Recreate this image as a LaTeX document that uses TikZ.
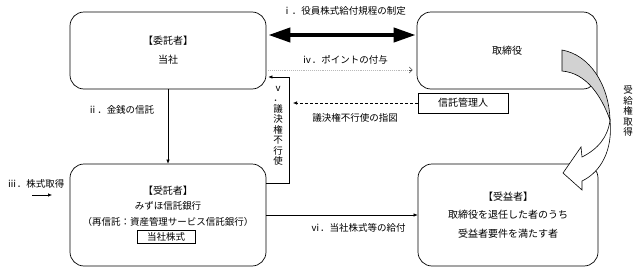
\documentclass[tikz,border=0pt]{standalone}
\usepackage{fontspec}
\setmainfont{Noto Sans CJK JP}
\usetikzlibrary{arrows.meta}

\tikzset{
  box/.style={draw, rounded corners=14pt, line width=0.7pt, align=center},
  lbl/.style={font=\fontsize{9.5pt}{11pt}\selectfont, inner sep=0pt},
  vlbl/.style={align=center, inner sep=0pt, font=\fontsize{9.5pt}{10.5pt}\selectfont},
  arr/.style={-{Latex[length=4pt,width=3.5pt]}, line width=0.6pt},
}

\begin{document}
\begin{tikzpicture}[x=1pt, y=-1pt]
  \useasboundingbox (0,0) rectangle (641,276);

  % -- Boxes --
  \node[box, minimum width=196pt, minimum height=77pt, font=\fontsize{10pt}{19pt}\selectfont] (itaku) at (168,50.5) {【委託者】\\当社};
  \node[box, minimum width=180pt, minimum height=77pt, font=\fontsize{10pt}{11pt}\selectfont] (torishimari) at (507,50.5) {取締役};
  \node[box, minimum width=196pt, minimum height=102pt] (jutaku) at (168,215) {};
  \node[align=center, inner sep=0pt, font=\fontsize{9.5pt}{15.5pt}\selectfont] (jutakutxt) at (168,206) {{\fontsize{10pt}{15.5pt}\selectfont【受託者】}\\みずほ信託銀行\\（再信託：資産管理サービス信託銀行）};
  \node[draw, line width=0.6pt, minimum width=58pt, minimum height=13pt, inner sep=1pt, font=\fontsize{9.5pt}{11pt}\selectfont] (kabu) at (166,237) {当社株式};
  \node[box, minimum width=180pt, minimum height=102pt, font=\fontsize{10pt}{18.5pt}\selectfont] (jueki) at (508,215) {【受益者】\\取締役を退任した者のうち\\受益者要件を満たす者};
  \node[draw, line width=0.6pt, minimum width=90pt, minimum height=20pt, font=\fontsize{10pt}{11pt}\selectfont] (kanri) at (463,103) {信託管理人};

  % -- Labels --
  \node[lbl] (lbli) at (344,11) {ⅰ．役員株式給付規程の制定};
  \node[lbl] (lbliv) at (345,60) {ⅳ．ポイントの付与};
  \node[lbl] (lblshizu) at (355,118) {議決権不行使の指図};
  \node[lbl] (lblii) at (121,110) {ⅱ．金銭の信託};
  \node[lbl] (lbliii) at (36,184) {ⅲ．株式取得};
  \node[lbl] (lblvi) at (358,228) {ⅵ．当社株式等の給付};
  \node[vlbl] (lblv) at (278,126) {ⅴ\\．\\議\\決\\権\\不\\行\\使};
  \node[vlbl] (lbljukyu) at (628,111) {受\\給\\権\\取\\得};

  % -- Connectors --
  \draw[line width=4pt, {Triangle[length=22pt,width=14pt]}-{Triangle[length=22pt,width=14pt]}]
    ([xshift=2pt,yshift=15.5pt]itaku.east) -- ([xshift=-1pt,yshift=15.5pt]torishimari.west);
  \draw[gray!55, line width=0.9pt, densely dotted]
    ([xshift=2pt,yshift=-19.5pt]itaku.east) -- ([xshift=-5pt,yshift=-19.5pt]torishimari.west);
  \draw[black!70, line width=0.6pt, -{Straight Barb[length=3pt,width=6pt]}]
    ([xshift=-8pt,yshift=-19.5pt]torishimari.west) -- ([xshift=-4pt,yshift=-19.5pt]torishimari.west);
  \coordinate (shizutip) at (293,103);
  \draw[arr, dash pattern=on 3pt off 2pt] (kanri.west) -- (shizutip);
  \draw[arr] ([yshift=32pt]jutaku.east) -- ++(23,0) |- ([xshift=2pt,yshift=-26.5pt]itaku.east);
  \draw[arr] (itaku.south) -- (jutaku.north);
  \draw[arr] (jutaku.east) -- (jueki.west);
  \coordinate (kabuA) at (32,195);
  \coordinate (kabuB) at (52,195);
  \draw[arr] (kabuA) -- (kabuB);

  % -- Curved arrow (受給権取得) --
  \draw[line width=0.6pt, fill=gray!35] (562,50) .. controls (590,55) and (609,85) .. (610,120)
    .. controls (601,95) and (586,73) .. (562,71) -- cycle;
  \draw[line width=0.6pt, fill=white] (610,120) .. controls (613,150) and (601,172) .. (582,181)
    -- (582,190) -- (563,173) -- (581,147) -- (582,157) .. controls (598,149) and (608,137) .. (610,120) -- cycle;

\end{tikzpicture}
\end{document}
